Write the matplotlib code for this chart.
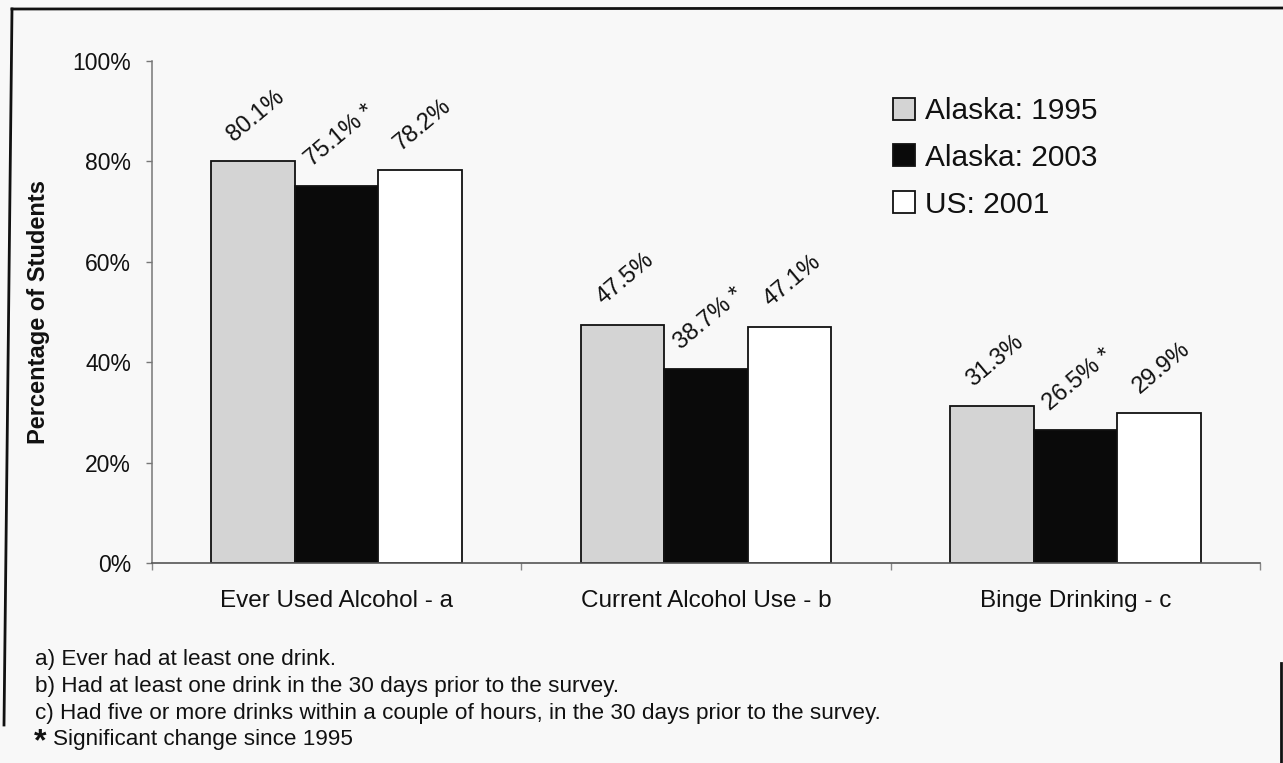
import matplotlib
matplotlib.use("Agg")
import matplotlib.pyplot as plt
import numpy as np
from matplotlib.lines import Line2D
from matplotlib.ticker import FuncFormatter, FixedLocator

plt.rcParams['font.family'] = ['Liberation Sans', 'DejaVu Sans']

# ---- data ----
categories = ["Ever Used Alcohol - a", "Current Alcohol Use - b", "Binge Drinking - c"]
series_names = ["Alaska: 1995", "Alaska: 2003", "US: 2001"]
alaska_1995 = [80.1, 47.5, 31.3]
alaska_2003 = [75.1, 38.7, 26.5]
us_2001 = [78.2, 47.1, 29.9]
significant_2003 = [True, True, True]
y_ticks = [0, 20, 40, 60, 80, 100]
footnotes = [
    "a) Ever had at least one drink.",
    "b) Had at least one drink in the 30 days prior to the survey.",
    "c) Had five or more drinks within a couple of hours, in the 30 days prior to the survey.",
]
star_note = "Significant change since 1995"

# ---- style ----
W, H = 1283, 763
bg = '#f8f8f8'
colors = ['#d4d4d4', '#0a0a0a', '#ffffff']

fig = plt.figure(figsize=(W / 100, H / 100), dpi=100, facecolor=bg)
ax = fig.add_axes([152 / W, 1 - 563 / H, 1108 / W, 502 / H])
ax.set_facecolor(bg)

x = np.arange(len(categories))
bw = 0.226
all_series = [alaska_1995, alaska_2003, us_2001]
for i, (vals, name, col) in enumerate(zip(all_series, series_names, colors)):
    ax.bar(x + (i - 1) * bw, vals, width=bw, color=col, edgecolor='#111111',
           linewidth=1.3, label=name, zorder=2)
    for j, v in enumerate(vals):
        txt = f"{v:.1f}%"
        if i == 1 and significant_2003[j]:
            txt += " *"
        ax.annotate(txt, (x[j] + (i - 1) * bw, v), xytext=(2, 11),
                    textcoords='offset points', rotation=40,
                    ha='center', va='bottom', fontsize=17, color='#111111')

ax.set_xlim(-0.5, len(categories) - 0.5)
ax.set_ylim(0, 100)
ax.yaxis.set_major_locator(FixedLocator(y_ticks))
ax.yaxis.set_major_formatter(FuncFormatter(lambda v, p: f"{v:.0f}%"))
ax.tick_params(axis='y', direction='out', length=4, width=1, color='#777777',
               pad=11, labelsize=16.5, labelcolor='#111111')
ax.set_xticks(x)
ax.set_xticklabels(categories, fontsize=17.5, color='#111111')
ax.tick_params(axis='x', which='major', length=0, pad=19.5)
ax.set_xticks(np.arange(-0.5, len(categories), 1.0), minor=True)
ax.tick_params(axis='x', which='minor', direction='out', length=5, width=1, color='#888888')

for s in ['top', 'right']:
    ax.spines[s].set_visible(False)
ax.spines['left'].set_color('#777777')
ax.spines['left'].set_linewidth(1.1)
ax.spines['bottom'].set_color('#555555')
ax.spines['bottom'].set_linewidth(1.2)

ax.set_ylabel("Percentage of Students", fontsize=17, fontweight='bold', color='#111111')
ax.yaxis.set_label_coords((50 - 152) / 1108, 0.5)

leg = ax.legend(loc='upper left', bbox_to_anchor=((893 - 152) / 1108, (563 - 97) / 502),
                frameon=False, fontsize=21.5, handlelength=0.75, handleheight=0.75,
                handletextpad=0.33, labelspacing=0.63, borderpad=0, borderaxespad=0)
for t in leg.get_texts():
    t.set_color('#111111')

# footnotes
ys = [660, 686.5, 713]
for yy, t in zip(ys, footnotes):
    fig.text(35 / W, 1 - yy / H, t, fontsize=16.2, va='center', ha='left', color='#111111')
fig.text(34 / W, 1 - 742 / H, "*", fontsize=23, fontweight='bold', va='center', ha='left', color='#111111')
fig.text(53 / W, 1 - 740 / H, star_note, fontsize=16.2, va='center', ha='left', color='#111111')

# scanned frame
fig.add_artist(Line2D([12 / W, 1.0], [1 - 9 / H, 1 - 8 / H], transform=fig.transFigure,
                      color='#111111', linewidth=2))
fig.add_artist(Line2D([12 / W, 4 / W], [1 - 9 / H, 1 - 725 / H], transform=fig.transFigure,
                      color='#111111', linewidth=2))
fig.add_artist(Line2D([1281 / W, 1281 / W], [1 - 663 / H, 0], transform=fig.transFigure,
                      color='#111111', linewidth=2))

fig.savefig("out.png", dpi=100, facecolor=bg)
